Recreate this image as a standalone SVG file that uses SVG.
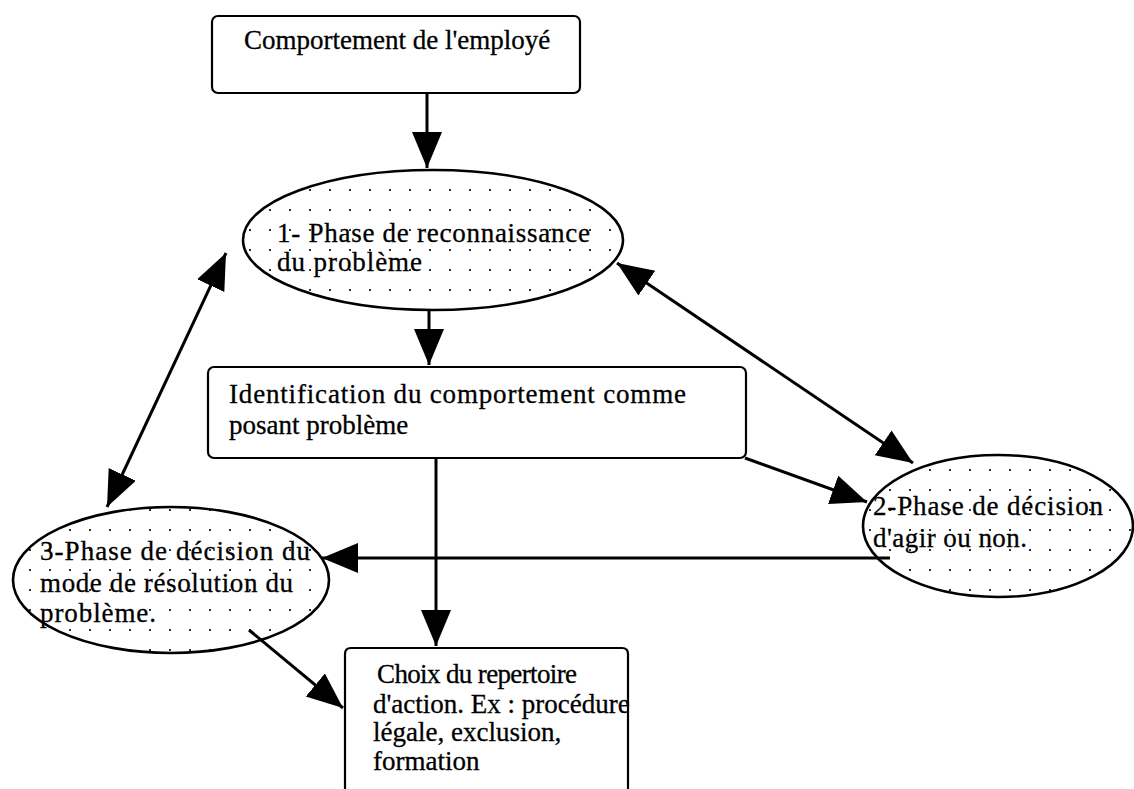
<svg xmlns="http://www.w3.org/2000/svg" width="1134" height="789" viewBox="0 0 1134 789">
<style>
.box{fill:#fff;stroke:#000;stroke-width:2.2}
.ell{fill:url(#dots);stroke:#000;stroke-width:2.6}
.t{font-family:"Liberation Serif","Times New Roman",serif;font-size:27px;fill:#000;stroke:#000;stroke-width:0.3}
.c{stroke:#000;stroke-width:3;fill:none;marker-end:url(#ah)}
.d{marker-start:url(#ah)}
</style>
<defs>
<pattern id="dots" patternUnits="userSpaceOnUse" width="20" height="20" x="0" y="0">
<rect width="20" height="20" fill="#fff"/>
<circle cx="10" cy="10" r="1.1" fill="#000"/>
</pattern>
<marker id="ah" markerUnits="userSpaceOnUse" markerWidth="40" markerHeight="34" refX="36" refY="15" orient="auto-start-reverse">
<path d="M0,0 L36,15 L0,30 z" fill="#000"/>
</marker>
</defs>
<g id="n1">
<rect class="box" x="212" y="16" width="368" height="77" rx="6"/>
<text class="t" x="244" y="49">Comportement de l'employé</text>
</g>
<g id="e1">
<ellipse class="ell" cx="433" cy="240" rx="190" ry="70"/>
<text class="t" x="277" y="242" textLength="313" lengthAdjust="spacing">1- Phase de reconnaissance</text>
<text class="t" x="277" y="271" textLength="145" lengthAdjust="spacing">du problème</text>
</g>
<g id="n2">
<rect class="box" x="208" y="367" width="538" height="91" rx="6"/>
<text class="t" x="229" y="403" textLength="457" lengthAdjust="spacing">Identification du comportement comme</text>
<text class="t" x="229" y="434">posant problème</text>
</g>
<g id="e2">
<ellipse class="ell" cx="998" cy="526" rx="135" ry="71"/>
<text class="t" x="873" y="515" textLength="230" lengthAdjust="spacing">2-Phase de décision</text>
<text class="t" x="873" y="547" textLength="154" lengthAdjust="spacing">d'agir ou non.</text>
</g>
<g id="e3">
<ellipse class="ell" cx="171" cy="580" rx="158" ry="73"/>
<text class="t" x="40" y="560" textLength="270" lengthAdjust="spacing">3-Phase de décision du</text>
<text class="t" x="40" y="592" textLength="253" lengthAdjust="spacing">mode de résolution du</text>
<text class="t" x="40" y="622" textLength="116" lengthAdjust="spacing">problème.</text>
</g>
<g id="n4">
<path class="box" d="M345,800 V654 Q345,648 351,648 H622 Q628,648 628,654 V800"/>
<text class="t" x="377" y="683" textLength="200" lengthAdjust="spacing">Choix du repertoire</text>
<text class="t" x="373" y="713">d'action. Ex : procédure</text>
<text class="t" x="373" y="741">légale, exclusion,</text>
<text class="t" x="373" y="770">formation</text>
</g>
<g id="connectors">
<line class="c" x1="427" y1="93" x2="427" y2="168"/>
<line class="c" x1="429" y1="311" x2="429" y2="365"/>
<line class="c d" x1="617" y1="263" x2="913" y2="463"/>
<line class="c d" x1="226" y1="253" x2="107" y2="507"/>
<line class="c" x1="745" y1="458" x2="867" y2="502"/>
<line class="c" x1="890" y1="558" x2="322" y2="558"/>
<line class="c" x1="436" y1="458" x2="436" y2="646"/>
<line class="c" x1="249" y1="630" x2="343" y2="708"/>
</g>
</svg>
